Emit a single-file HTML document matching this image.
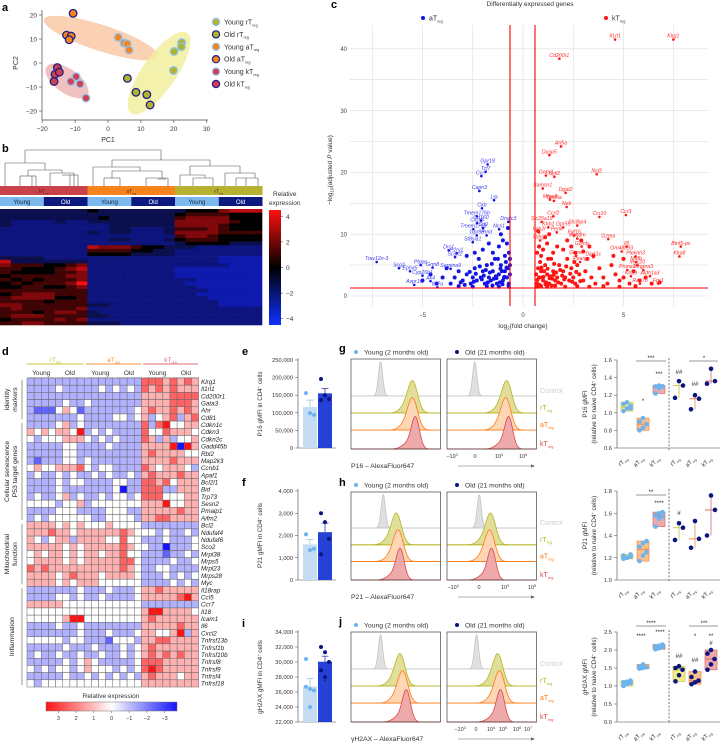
<!DOCTYPE html>
<html><head><meta charset="utf-8"><style>
html,body{margin:0;padding:0;background:#fff}
svg{display:block;font-family:"Liberation Sans",sans-serif}
</style></head><body>
<svg id="fig" width="722" height="743" viewBox="0 0 722 743" xmlns="http://www.w3.org/2000/svg">
<defs>
<linearGradient id="gradB" x1="0" y1="0" x2="0" y2="1"><stop offset="0" stop-color="#ff1010"/><stop offset="0.5" stop-color="#000"/><stop offset="1" stop-color="#1030ff"/></linearGradient>
<linearGradient id="gradD" x1="0" y1="0" x2="1" y2="0"><stop offset="0" stop-color="#ff1414"/><stop offset="0.5" stop-color="#fff"/><stop offset="1" stop-color="#1414ff"/></linearGradient>
</defs>
</svg>
<script>
// ---------- DATA ----------
const pcaGroups = ['Young rT','Old rT','Young aT','Old aT','Young kT','Old kT'];
const pcaX = [[22.4,22.3,20.1,19.9],[5.9,8.5,11.8,12.8],[3.1,4.9,5.8,6.4],[-10.6,-12.6,-11.2,-11.8],[-9.7,-11.3,-8.5,-6.7],[-15.4,-16.1,-14.8,-16.4]];
const pcaY = [[8.5,6.8,4.8,-3.1],[-6.4,-12.2,-13.2,-17.5],[10.7,8.3,8,5.4],[20.7,11.6,11.2,9.7],[-5.7,-7.7,-8.7,-14.6],[-1.9,-4.7,-3.8,-7.7]];
const pcaXTicks = [-20,-10,0,10,20,30];
const pcaYTicks = [20,10,0,-10,-20];

const hmB = ["333333334333333334446777","333333333333333345555444","333333333433333356666444","322223223333333366666544",
"322222222233333366665444","222222222233222355565444","222222223233222366665555","222222222222222256654444",
"222222222233222345554444","222222222222222234444333","222222227666544333222222","222222225555443322222222",
"222222224444333322222222","333322222222222222221111","733333332222222222221111","655544562222222222222111",
"554445672222222211111111","544445562222222211111111","455555662222222211111111","545455562222222222111111",
"454555682222222221111111","445544562222222222111111","555555552222222222211111","456665552222222222111111",
"566664452222222222211111","555545552222222222221111","665555553322222222221111","565555562222222222222222",
"555456653222222222222222","566655553322222222222222","455556562222222222222222","556655553332222222222222"];
const hmBTicks = [4,2,0,-2,-4];

const volRedNames = ['Klrg1','Il1rl1','Cd200r1','Arl5a','Dusp5','Gata3','Sytl2','Nid2','Samsn1','Dgat2','Mfge8','Tent5a','Neb','Ccr3','Ccr10','Ccrl2','Slc25a19','Sh3bp4','Gpr55','Klrb1','Fgf16','Itgb2l','Penk','Gzma','Myadm','Ndrg1','Il5','Gzmb','Gm48893','Btnl5-ps','Klra8','Gzmc','Dipk1c','Plekhh3','Pparg','Mafb','Muc20','Prune2','Mrgpra3','Klra9','Aldh1a3','Rab7b','Fpr1'];
const volRedX = [7.48,4.58,1.81,1.89,1.31,1.14,1.56,3.67,0.98,2.12,1.34,1.54,2.17,5.12,3.8,1.51,0.93,2.7,2.0,1.26,2.55,0.8,1.68,4.24,2.7,0.85,5.16,2.92,4.91,7.85,7.78,2.64,3.5,5.6,2.84,5.63,5.69,5.19,5.99,5.37,6.32,5.82,6.73];
const volRedY = [41.5,41.5,38.4,24.2,22.8,19.5,19.3,19.7,17.4,16.7,15.6,15.4,14.4,13.1,12.8,12.9,12.0,11.4,11.1,11.1,9.8,10.3,10.3,9.2,9.3,9.0,8.0,8.0,7.2,8.0,6.4,6.5,6.3,6.4,5.5,5.5,5.0,4.2,4.2,3.2,3.2,2.0,2.0];
const volBlueNames = ['Gpr18','Tcf7','Ccr7','Capn3','Lta','Ckb','Tmem176b','Cd160','Cxcr5','Dnajc3','Tmem176a','Cd9','Ncs1','Gpr83','Prnd','St8sia1','Drc1','P2ry1','Scart2','Trav12n-3','Scg2','Ptgas','Grm8','Serpina9','Epha5','Cyp26b1','Avpr1a','Ak4','Il17a'];
const volBlueX = [-1.76,-1.86,-2.07,-2.17,-1.44,-2.04,-2.3,-2.09,-2.29,-0.73,-2.47,-1.99,-1.19,-2.3,-1.81,-2.5,-3.7,-3.3,-3.38,-7.28,-6.17,-5.09,-4.5,-3.6,-5.62,-5.0,-5.41,-4.6,-4.26];
const volBlueY = [21.3,20.1,19.4,17.0,15.5,14.2,12.9,12.2,11.8,12.0,10.8,11.0,10.8,9.8,9.8,8.7,7.4,6.9,6.3,5.5,4.5,5.0,4.6,4.4,4.0,3.3,1.8,2.4,1.4];
const volRedBgX = [0.7,0.8,0.9,1,1.1,1.2,1.3,1.4,1.5,1.6,1.7,1.8,1.9,2,2.1,2.2,2.3,2.4,2.5,2.6,2.7,2.8,3,3.1,3.2,3.4,3.6,3.8,4,4.2,4.4,4.6,4.8,5,5.3,5.5,5.8,6.1,6.4,6.8,0.7,0.8,0.9,1,1.2,1.5,1.7,2,2.4,2.6,3,3.5,1.1,1.3,0.75,2.2,2.9,3.3,4.5,5,0.7,0.9,1.2,1.6,2.1,2.7,3.3,4,4.8,5.6,0.75,0.85,0.95,1.05,1.15,1.25,1.35,1.45,1.55,1.65,1.75,1.85,1.95,2.05,2.15,2.35,2.45,2.55,2.65,2.85,0.65,0.72,0.82,0.92,1.02,1.12,1.22,1.32,1.42,1.52];
const volRedBgY = [2,3,4,2.5,5,3.5,2,6,4,2.5,3,5,2,4,3,6,2.5,4.5,3,2,5,3.5,2.5,4,6,3,2,4.5,3,2,5,3.5,2.5,3,2,4,2.5,3,2,2.2,7,8,6.5,7.5,8.5,7,8,7.5,8,7,7.2,6.5,9.5,10,10.5,9,9,8,6.5,6,1.5,1.6,1.5,1.7,1.5,1.6,1.5,1.6,1.5,1.6,4.5,5.5,3,4,2.2,6,3.2,2.8,5.2,3.8,2.2,4.2,3.3,2.7,4.8,3.6,2.3,5.5,3.9,2.4,3.5,2.6,1.8,4.6,3.1,1.9,4.4,2.9,1.7,3.4];
const volBlueBgX = [-0.7,-0.8,-0.9,-1,-1.1,-1.2,-1.3,-1.4,-1.5,-1.6,-1.7,-1.8,-1.9,-2,-2.1,-2.2,-2.3,-2.4,-2.5,-2.6,-2.8,-3,-3.2,-3.4,-3.6,-3.8,-4,-4.3,-4.6,-5,-0.7,-0.8,-0.9,-1,-1.2,-1.5,-1.7,-2,-2.4,-2.8,-1.1,-0.75,-0.7,-1.2,-1.8,-2.5,-3.2,-0.75,-0.85,-0.95,-1.05,-1.15,-1.25,-1.35,-1.45,-1.55,-1.65,-1.75,-1.85,-1.95,-2.05,-2.15,-2.35,-2.45,-2.65,-0.65,-0.65,-0.65,-0.72,-0.82,-0.92,-1.02,-1.12,-1.32,-1.52,-2.9,-3.1];
const volBlueBgY = [2,3,4,2.5,5,3.5,2,6,4,2.5,3,5,2,4,3,6,2.5,4.5,3,2,3.5,2.5,4,3,2,4.5,3,2,3.5,2.5,7,8.5,6.5,9,8,7,8.5,7.5,7,6.5,10,11,1.5,1.5,1.6,1.5,1.6,4.5,5.5,3,4,2.2,6,3.2,2.8,5.2,3.8,2.2,4.2,3.3,2.7,4.8,3.6,2.3,3.9,3.5,5,6,1.8,4.6,3.1,1.9,4.4,2.9,1.7,1.8,2.2];
const volXTicks = [-5,0,5];
const volYTicks = [0,10,20,30,40];

const genesD = ['Klrg1','Il1rl1','Cd200r1','Gata3','Ahr','Cd81','Cdkn1c','Cdkn3','Cdkn2c','Gadd45b','Rbl2','Map2k3','Ccnb1','Apaf1','Bcl2l1','Bid','Trp73','Sesn2','Pmaip1','Aifm2','Bcl2','Ndufaf4','Ndufaf6','Sco2','Mrpl38','Mrps5','Mrpl23','Mrps28','Myc','Il18rap','Ccl5','Ccr7','Il18','Icam1','Il6','Cxcl2','Tnfrsf13b','Tnfrsf1b','Tnfrsf10b','Tnfrsf8','Tnfrsf9','Tnfrsf4','Tnfrsf18'];
const hmD = ["222222222222222255545454","222232222232323254545444","222222222222222244445555","222223223222222244445554","211134312222222345445454","222222232222332342345245",
"222234232222222252563344","434344362323222253354443","323334443232322254242334","222223322223222244446064","222223322222222245444433","212223323222222244445444","343344453233222254344432","232232322323223245444544","222232332222332255453444","222232222222302255522444","232234232232332355533344","333323342333333344463344","222233322223332244444544","232333333223333244554444",
"444434343334333322222222","444544344444454333232232","432344244443353322232223","444443434444454332202223","343443434434453322212232","344443434444455322223223","545444444444454322332222","444434544434444322232323","444434344433333322223232",
"222222232223222344544444","222233232232222344444564","444443333333333322222222","333333333333333346644443","333334663333333345444444","222232232222222244444544","222222232223222344334624","333332332221333244554444","222223222322232345444444","232232232232232345454544","222223234322222355544444","323233234333232356544444","222223223232323245444344","323333333333333344444444"];
const hmDTicks = [3,2,1,0,-1,-2,-3];

const barEYoung = [156000,99000,94000], barEOld = [196000,150000,139000,136000];
const barFYoung = [2050,1350,1400], barFOld = [3000,2600,1850,1150];
const barIYoung = [30400,26400,26200,26700,24000], barIOld = [32000,31300,30000,28900,28000];
const ticksE = [0,50000,100000,150000,200000,250000];
const ticksF = [0,1000,2000,3000,4000];
const ticksI = [22000,24000,26000,28000,30000,32000,34000];

const histRows = ['Control','rT','aT','kT'];
const histGYoungPeak = [33,69,69,72], histGOldPeak = [31,67,66,69];
const histHYoungPeak = [36,51,53,55], histHOldPeak = [36,49,48,50];
const histJYoungPeak = [33,55,58,62], histJOldPeak = [33,57,59,60];
const histSd = [2.4,5.5,5.5,4.5];

const boxCats = ['rT','aT','kT','rT','aT','kT'];
const boxG = [[1.02,1.05,1.08,1.1,1.12,1.05],[0.8,0.83,0.87,0.9,0.94],[1.22,1.28,1.3,1.3,1.31,1.3],[1.17,1.31,1.36],[1.04,1.16,1.2],[1.33,1.36,1.5]];
const boxH = [[1.19,1.2,1.21,1.22,1.2,1.23],[1.17,1.22,1.25,1.3,1.33,1.35],[1.48,1.55,1.57,1.58,1.6,1.61],[1.36,1.47,1.51],[1.29,1.37,1.53],[1.4,1.63,1.76]];
const boxJ = [[1.0,1.05,1.08,1.1,1.12,1.15],[1.48,1.5,1.52,1.55,1.6],[2.02,2.05,2.08,2.1,2.12,2.15],[1.13,1.3,1.45,1.5,1.55],[1.05,1.1,1.15,1.25,1.4],[1.45,1.6,1.75,1.9,2.0]];
const ticksG = [0.6,0.8,1.0,1.2,1.4,1.6];
const ticksH = [1.0,1.2,1.4,1.6,1.8];
const ticksJ = [0,0.5,1.0,1.5,2.0,2.5];

// ---------- HELPERS ----------
const NS='http://www.w3.org/2000/svg';
const svg=document.getElementById('fig');
function mk(tag,attrs,parent){const e=document.createElementNS(NS,tag);for(const k in attrs)e.setAttribute(k,attrs[k]);(parent||svg).appendChild(e);return e;}
function txt(x,y,s,size,anchor,fill,parent,extra){const e=mk('text',Object.assign({x:x,y:y,'font-size':size,'text-anchor':anchor||'start',fill:fill||'#222'},extra||{}),parent);e.textContent=s;return e;}
function reg(x,y,base,size,anchor,fill,parent){const e=mk('text',{x:x,y:y,'font-size':size,'text-anchor':anchor||'start',fill:fill||'#222'},parent);const a=mk('tspan',{},e);a.textContent=base;const b=mk('tspan',{'font-size':size*0.55,dy:size*0.25},e);b.textContent='reg';return e;}
function grp(name){const g=mk('g',{});return g;}
function fmt(n){return n.toLocaleString('en-US');}

// panel letters
[['a',2,11],['b',2,152],['c',331,8],['d',2,355],['e',242,355],['f',242,486],['i',242,627],['g',339,352],['h',339,486],['j',339,625]].forEach(p=>{
 const t=txt(p[1],p[2],p[0],11,'start','#000',null,{'font-weight':'bold'});
 
 
});

// ---------- PANEL A ----------
(function(){
 const g=grp('pca-panel');
 const px=v=>108+v*3.29, py=v=>63-v*2.4;
 [['#f9c9a4',101,38,60,13,18],['#eeb6b6',67,81,25,12,35],['#f2ee9e',159,73,49,17,-55]].forEach((e,i)=>{
  const el=mk('ellipse',{cx:e[1],cy:e[2],rx:e[3],ry:e[4],fill:e[0],opacity:0.85,transform:`rotate(${e[5]} ${e[1]} ${e[2]})`},g);
  
  
 });
 mk('line',{x1:42,y1:10,x2:42,y2:120,stroke:'#444','stroke-width':0.7},g);
 mk('line',{x1:42,y1:120,x2:208,y2:120,stroke:'#444','stroke-width':0.7},g);
 pcaYTicks.forEach(v=>{mk('line',{x1:39,y1:py(v),x2:42,y2:py(v),stroke:'#444','stroke-width':0.6},g);const t=txt(37,py(v)+2.5,String(v).replace('-','−'),6.5,'end','#333',g);});
 pcaXTicks.forEach(v=>{mk('line',{x1:px(v),y1:120,x2:px(v),y2:123,stroke:'#444','stroke-width':0.6},g);const t=txt(px(v),131,String(v).replace('-','−'),6.5,'middle','#333',g);});
 const xl=txt(108,142,'PC1',7,'middle','#333',g);
 const yl=txt(18,63,'PC2',7,'middle','#333',g,{transform:'rotate(-90 18 63)'});
 const fills=['#b3b42a','#b3b42a','#f7831c','#f7831c','#d2404d','#d2404d'];
 const strokes=['#8fc3ef','#1b1f8a','#8fc3ef','#1b1f8a','#8fc3ef','#1b1f8a'];
 pcaX.forEach((xs,gi)=>xs.forEach((x,i)=>{
  const c=mk('circle',{cx:px(x),cy:py(pcaY[gi][i]),r:3.8,fill:fills[gi],stroke:strokes[gi],'stroke-width':1.3},g);
  
  
 }));
 pcaGroups.forEach((n,i)=>{
  const y=22+i*12.4;
  const c=mk('circle',{cx:216,cy:y,r:3.6,fill:fills[i],stroke:strokes[i],'stroke-width':1.2},g);
  
  
  const t=reg(224,y+2.5,n,7,'start','#333',g);
  
  
 });
})();

// ---------- PANEL B ----------
(function(){
 const g=grp('clustered-heatmap-panel');
 const segs=[[25,150,161,150],[25,150,25,163],[161,150,161,160],[5,163,45,163],[5,163,5,186],[45,163,45,170],[28,170,62,170],[28,170,28,176],[62,170,62,173],[20,176,36,176],[20,176,20,186],[36,176,36,186],[32,176,32,186],[50,173,74,173],[50,173,50,186],[74,173,74,186],[62,175,78,175],[78,175,78,186],[70,175,70,186],
 [112,160,210,160],[112,160,112,167],[210,160,210,166],[93,167,140,167],[93,167,93,186],[140,167,140,171],[112,171,162,171],[112,171,112,178],[162,171,162,178],[104,178,120,178],[104,178,104,186],[120,178,120,186],[146,178,168,178],[146,178,146,186],[168,178,168,186],[158,179,166,179],
 [190,166,240,166],[190,166,190,175],[240,166,240,173],[180,175,205,175],[180,175,180,186],[205,175,205,178],[193,178,213,178],[193,178,193,186],[213,178,213,186],[225,173,255,173],[225,173,225,186],[255,173,255,178],[236,178,258,178],[236,178,236,186],[258,178,258,186],[246,178,246,186]];
 segs.forEach(s=>{const l=mk('line',{x1:s[0],y1:s[1],x2:s[2],y2:s[3],stroke:'#555','stroke-width':0.6},g);});
 [['kT',0,'#c8414b'],['aT',87.5,'#f7831c'],['rT',175,'#b5b232']].forEach(b=>{
  const r=mk('rect',{x:b[1],y:186,width:87.5,height:9,fill:b[2]},g);
  const t=reg(b[1]+43.75,193,b[0],5,'middle','#5a2020',g);
  [['Young','#7ab8ee','#123'],['Old','#0c1a80','#fff']].forEach((a,k)=>{
   const r2=mk('rect',{x:b[1]+k*43.75,y:197,width:43.75,height:9,fill:a[1]},g);
   const t2=txt(b[1]+k*43.75+21.9,204,a[0],6,'middle',a[2],g);
  });
 });
 const rh=116/hmB.length, cw=262/24;
 hmB.forEach((row,ri)=>{for(let ci=0;ci<24;ci++){
  const v=+row[ci]-4; let col;
  if(v>=0){col=`rgb(${Math.round(v/4*255)},${Math.round(v/4*15)},${Math.round(v/4*20)})`;} else {const t=-v/4;col=`rgb(${Math.round(10+t*5)},${Math.round(10+t*20)},${Math.round(30+t*190)})`;}
  const r=mk('rect',{x:ci*cw,y:209+ri*rh,width:cw+0.3,height:rh+0.3,fill:col},g);
  
  
 }});
 const cb=mk('rect',{x:269,y:210,width:12,height:115,fill:'url(#gradB)'},g);
 hmBTicks.forEach(v=>{const y=267.5-v*12.8;mk('line',{x1:281,y1:y,x2:283,y2:y,stroke:'#333','stroke-width':0.5},g);const t=txt(286,y+2.5,String(v).replace('-','−'),6.5,'start','#333',g);});
 const t1=txt(273,196,'Relative',6.5,'start','#333',g);
 const t2=txt(269,205,'expression',6.5,'start','#333',g);
})();

// ---------- PANEL C ----------
(function(){
 const g=grp('volcano-panel');
 const vx=v=>523+v*20.1, vy=v=>296-v*6.18;
 const title=txt(530,6,'Differentially expressed genes',6.5,'middle','#333',g);
 [-7.5,-5,-2.5,0,2.5,5,7.5].forEach(v=>{const l=mk('line',{x1:vx(v),y1:25,x2:vx(v),y2:306,stroke:'#dcdcdc','stroke-width':0.6},g);});
 [0,5,10,15,20,25,30,35,40].forEach(v=>{const l=mk('line',{x1:350,y1:vy(v),x2:708,y2:vy(v),stroke:'#dcdcdc','stroke-width':0.6},g);});
 volYTicks.forEach(v=>{const t=txt(347,vy(v)+2.2,String(v),6,'end','#444',g);});
 volXTicks.forEach(v=>{const t=txt(vx(v),317,String(v).replace('-','−'),6,'middle','#444',g);});
 const xt=mk('text',{x:523,y:328,'font-size':6.5,'text-anchor':'middle',fill:'#333'},g);xt.innerHTML='log<tspan font-size="4.5" dy="1.5">2</tspan><tspan dy="-1.5">(fold change)</tspan>';
 
 const yt=mk('text',{x:332,y:170,'font-size':6.5,'text-anchor':'middle',fill:'#333',transform:'rotate(-90 332 170)'},g);yt.innerHTML='−log<tspan font-size="4.5" dy="1.5">10</tspan><tspan dy="-1.5">(adjusted </tspan><tspan font-style="italic">P</tspan> value)';
 
 volBlueBgX.forEach((x,i)=>{const c=mk('circle',{cx:vx(x),cy:vy(volBlueBgY[i]),r:2,fill:'#1414e6'},g);});
 volRedBgX.forEach((x,i)=>{const c=mk('circle',{cx:vx(x),cy:vy(volRedBgY[i]),r:2,fill:'#ff1414'},g);});
 volBlueNames.forEach((n,i)=>{const c=mk('circle',{cx:vx(volBlueX[i]),cy:vy(volBlueY[i]),r:1.3,fill:'#1414e6'},g);
  const t=txt(vx(volBlueX[i]),vy(volBlueY[i])-1.8,n,5.2,'middle','#3a3af0',g,{'font-style':'italic'});});
 volRedNames.forEach((n,i)=>{const c=mk('circle',{cx:vx(volRedX[i]),cy:vy(volRedY[i]),r:1.3,fill:'#ff1414'},g);
  const t=txt(vx(volRedX[i]),vy(volRedY[i])-1.8,n,5.2,'middle','#ff2a2a',g,{'font-style':'italic'});});
 [[510,25,510,306],[535,25,535,306],[350,288,708,288]].forEach(s=>{const l=mk('line',{x1:s[0],y1:s[1],x2:s[2],y2:s[3],stroke:'#ff0000','stroke-width':1.1},g);});
 const d1=mk('circle',{cx:423,cy:18,r:2,fill:'#1414e6'},g);
 const l1=reg(429,20.5,'aT',7,'start','#333',g);
 const d2=mk('circle',{cx:606,cy:18,r:2,fill:'#ff1414'},g);
 const l2=reg(612,20.5,'kT',7,'start','#333',g);
})();

// ---------- PANEL D ----------
(function(){
 const g=grp('gene-heatmap-panel');
 const x0=27, y0=378, cw=7.15, rh=309/genesD.length;
 [['rT',27,84,'#c8c832'],['aT',86,141,'#f4913e'],['kT',143,198,'#e06a74']].forEach(h=>{
  const l=mk('line',{x1:h[1],y1:364,x2:h[2],y2:364,stroke:h[3],'stroke-width':0.9},g);
  const t=reg((h[1]+h[2])/2,362,h[0],6.5,'middle',h[3],g);
  [['Young',0],['Old',1]].forEach(a=>{const cx=h[1]+(a[1]+0.5)*28.6;const t2=txt(cx,375,a[0],6.5,'middle','#333',g);
   mk('line',{x1:cx-13,y1:377.5,x2:cx+13,y2:377.5,stroke:'#aaa','stroke-width':0.6},g);});
 });
 hmD.forEach((row,ri)=>{for(let ci=0;ci<24;ci++){
  const v=+row[ci]-3, t=Math.min(1,Math.abs(v)/3);
  const col=v>=0?`rgb(255,${Math.round(255-235*t)},${Math.round(255-235*t)})`:`rgb(${Math.round(255-235*t)},${Math.round(255-235*t)},255)`;
  const r=mk('rect',{x:x0+ci*cw,y:y0+ri*rh,width:cw,height:rh,fill:col,stroke:'#666','stroke-width':0.5},g);
  
  
 }
  const t=txt(201,y0+ri*rh+rh/2+2.3,genesD[ri],6.3,'start','#222',g,{'font-style':'italic'});
  
  
 });
 [[0,6,['Identity','markers']],[6,20,['Cellular senescence','P53 target genes']],[20,29,['Mitochondrial','function']],[29,43,['Inflammation']]].forEach(s=>{
  const ya=y0+s[0]*rh+2, yb=y0+s[1]*rh-2, ym=(ya+yb)/2;
  const l=mk('line',{x1:22,y1:ya,x2:22,y2:yb,stroke:'#555','stroke-width':0.6},g);
  s[2].forEach((ln,k)=>{const xx=s[2].length==1?14:9+k*8;const t=txt(xx,ym,ln,6.8,'middle','#222',g,{transform:`rotate(-90 ${xx} ${ym})`});});
 });
 const tt=txt(111,698,'Relative expression',6.5,'middle','#333',g);
 const cb=mk('rect',{x:46,y:702,width:131,height:9,fill:'url(#gradD)',stroke:'#777','stroke-width':0.5},g);
 hmDTicks.forEach(v=>{const x=111.5-v*17.7;mk('line',{x1:x,y1:711,x2:x,y2:713,stroke:'#555','stroke-width':0.5},g);const t=txt(x,720,String(v).replace('-','−'),5.5,'middle','#333',g);});
})();

// ---------- BAR PANELS e,f,i ----------
function barPanel(name,top,bot,ticks,young,old,label,star){
 const g=grp(name);
 const lo=ticks[0],hi=ticks[ticks.length-1];
 const sy=v=>bot-(v-lo)/(hi-lo)*(bot-top);
 mk('line',{x1:298,y1:top-2,x2:298,y2:bot,stroke:'#444','stroke-width':0.6},g);
 mk('line',{x1:298,y1:bot,x2:336,y2:bot,stroke:'#444','stroke-width':0.6},g);
 ticks.forEach(v=>{mk('line',{x1:295,y1:sy(v),x2:298,y2:sy(v),stroke:'#444','stroke-width':0.5},g);const t=txt(293,sy(v)+2,fmt(v),5.8,'end','#333',g);});
 const yt=mk('text',{x:262,y:(top+bot)/2,'font-size':6.3,'text-anchor':'middle',fill:'#333',transform:`rotate(-90 262 ${(top+bot)/2})`},g);
 yt.innerHTML=label+' in CD4<tspan font-size="4" dy="-2">+</tspan><tspan dy="2"> cells</tspan>';
 
 [[young,303,'#c5dcf5','#6cb4f0','#8ab8e6'],[old,318,'#2541d6','#0a1580','#1b2a9a']].forEach(b=>{
  const vals=b[0], m=vals.reduce((a,c)=>a+c,0)/vals.length;
  const sd=Math.sqrt(vals.reduce((a,c)=>a+(c-m)*(c-m),0)/(vals.length-1))/Math.sqrt(vals.length);
  const r=mk('rect',{x:b[1],y:sy(m),width:14,height:bot-sy(m),fill:b[2]},g);
  mk('line',{x1:b[1]+7,y1:sy(m),x2:b[1]+7,y2:sy(m+sd),stroke:b[4],'stroke-width':0.7},g);
  mk('line',{x1:b[1]+3.5,y1:sy(m+sd),x2:b[1]+10.5,y2:sy(m+sd),stroke:b[4],'stroke-width':0.7},g);
  vals.forEach((v,i)=>{const c=mk('circle',{cx:b[1]+3+(i%3)*4,cy:sy(v),r:2,fill:b[3]},g);});
 });
 if(star){const s=txt(325,top+52,'*',7,'middle','#222',g);}
}
barPanel('p16-bar-panel',360,448,ticksE,barEYoung,barEOld,'P16 gMFI',false);
barPanel('p21-bar-panel',491,580,ticksF,barFYoung,barFOld,'P21 gMFI',false);
barPanel('gh2ax-bar-panel',632,722,ticksI,barIYoung,barIOld,'gH2AX gMFI',true);

// ---------- HISTOGRAM PANELS g,h,j ----------
function histPanel(name,top,bot,youngPk,oldPk,marker,ticksLbl){
 const g=grp(name);
 const lg=[['Young (2 months old)','#6cb4f0',356],['Old (21 months old)','#0a1580',457]];
 lg.forEach(l=>{const c=mk('circle',{cx:l[2],cy:top-7,r:2,fill:l[1]},g);
  const t=txt(l[2]+8,top-4.5,l[0],6.8,'start','#333',g);});
 const h=bot-top, bases=[top+0.41*h,top+0.6*h,top+0.79*h,bot];
 const fills=['#e0e0e0','#e0de9a','#fdd6b4','#eeaaaa'], strokes=['#c4c4c4','#b9b520','#ff7a10','#d84a4a'];
 [[351,youngPk],[447,oldPk]].forEach(bx=>{
  const x0=bx[0], w=89.5;
  const hx=v=>x0+v/100*w;
  for(let r=0;r<4;r++){
   const amp=(r==0?0.38:0.34)*h, pk=bx[1][r], sd=histSd[r];
   let d=`M${x0},${bases[r]}`;
   for(let v=0;v<=100;v+=0.5){const y=bases[r]-amp*Math.exp(-0.5*((v-pk)/sd)**2)-(r>0?0.7*Math.exp(-0.5*((v-pk+9)/6)**2)*amp*0.25:0);d+=` L${hx(v).toFixed(2)},${y.toFixed(2)}`;}
   const p=mk('path',{d:d+` L${x0+w},${bases[r]} Z`,fill:fills[r],stroke:strokes[r],'stroke-width':0.8},g);
   
   
   mk('line',{x1:x0,y1:bases[r],x2:x0+w,y2:bases[r],stroke:strokes[r],'stroke-width':0.8},g);
  }
  const box=mk('rect',{x:x0,y:top,width:w,height:h,fill:'none',stroke:'#444','stroke-width':0.7},g);
  
 });
 histRows.forEach((r,i)=>{
  let t;
  if(i==0)t=txt(540,bases[0]-3,'Control',7,'start','#cfcfcf',g);
  else t=reg(540,bases[i]-3,r,7,'start',strokes[i],g);
  
 });
 ticksLbl.forEach(tk=>{const t=mk('text',{x:tk[1],y:bot+9,'font-size':5.5,'text-anchor':'middle',fill:'#333'},g);t.innerHTML=tk[0];});
 const xl=txt(351,bot+19,marker+' – AlexaFluor647',6.8,'start','#333',g);
 mk('line',{x1:458,y1:bot+17,x2:534,y2:bot+17,stroke:'#666','stroke-width':0.6},g);
 mk('path',{d:`M535,${bot+17} l-4,-1.6 v3.2 Z`,fill:'#666'},g);
}
const tk3=[['−10<tspan font-size="3.5" dy="-2">3</tspan>',452],['0',475],['10<tspan font-size="3.5" dy="-2">3</tspan>',499],['10<tspan font-size="3.5" dy="-2">5</tspan>',523]];
histPanel('p16-histogram-panel',359,449,histGYoungPeak,histGOldPeak,'P16',tk3);
histPanel('p21-histogram-panel',492,580,histHYoungPeak,histHOldPeak,'P21',[['−10<tspan font-size="3.5" dy="-2">3</tspan>',453],['0',479],['10<tspan font-size="3.5" dy="-2">3</tspan>',505],['10<tspan font-size="3.5" dy="-2">5</tspan>',532]]);
histPanel('gh2ax-histogram-panel',632,722,histJYoungPeak,histJOldPeak,'γH2AX',[['−10<tspan font-size="3.5" dy="-2">3</tspan>',460],['0',476],['10<tspan font-size="3.5" dy="-2">4</tspan>',491],['10<tspan font-size="3.5" dy="-2">5</tspan>',503],['10<tspan font-size="3.5" dy="-2">6</tspan>',517],['10<tspan font-size="3.5" dy="-2">7</tspan>',528]]);

// ---------- BOX PANELS ----------
function boxPanel(name,top,bot,ticks,data,label,sig){
 const g=grp(name);
 const lo=ticks[0],hi=ticks[ticks.length-1];
 const sy=v=>bot-(v-lo)/(hi-lo)*(bot-top);
 const cx=[627,643,659,679,695,711];
 mk('line',{x1:617,y1:top,x2:617,y2:bot,stroke:'#444','stroke-width':0.6},g);
 mk('line',{x1:617,y1:bot,x2:720,y2:bot,stroke:'#444','stroke-width':0.6},g);
 mk('line',{x1:669,y1:top-2,x2:669,y2:bot+2,stroke:'#777','stroke-width':1,'stroke-dasharray':'2,1.6'},g);
 ticks.forEach(v=>{mk('line',{x1:614,y1:sy(v),x2:617,y2:sy(v),stroke:'#444','stroke-width':0.5},g);const t=txt(612,sy(v)+2,v.toFixed(1),5.8,'end','#333',g);});
 const ym=(top+bot)/2;
 const t1=txt(587,ym,label,6.3,'middle','#333',g,{transform:`rotate(-90 587 ${ym})`});
 const t2=mk('text',{x:596,y:ym,'font-size':6.3,'text-anchor':'middle',fill:'#333',transform:`rotate(-90 596 ${ym})`},g);t2.innerHTML='(relative to naive CD4<tspan font-size="4" dy="-2">+</tspan><tspan dy="2"> cells)</tspan>';
 
 const fills=['#f4ec8a','#fbbf8c','#eeaaaa'], strokes=['#c9c34a','#f08a50','#d86a6a'];
 data.forEach((vals,i)=>{
  const s=[...vals].sort((a,b)=>a-b), mn=s[0], mx=s[s.length-1], md=s.length%2?s[(s.length-1)/2]:(s[s.length/2-1]+s[s.length/2])/2;
  const k=i%3, x=cx[i];
  if(vals.length>=5){const r=mk('rect',{x:x-6,y:sy(mx),width:12,height:sy(mn)-sy(mx),fill:fills[k],stroke:strokes[k],'stroke-width':0.7},g);}
  else{const r=mk('line',{x1:x,y1:sy(mx),x2:x,y2:sy(mn),stroke:strokes[k],'stroke-width':0.8},g);}
  mk('line',{x1:x-6,y1:sy(md),x2:x+6,y2:sy(md),stroke:strokes[k],'stroke-width':1},g);
  vals.forEach((v,j)=>{const c=mk('circle',{cx:x+(vals.length>=5?((j%3)-1)*3.5:(j%2?4:-4)*(j==1?1:(j==2?0:1))),cy:sy(v),r:2.3,fill:i<3?'#6cb4f0':'#0a1580'},g);});
  const lt=reg(x+1,bot+11,boxCats[i],6,'end','#333',g);lt.setAttribute('transform',`rotate(-45 ${x+1} ${bot+11})`);
  
 });
 sig.forEach(s=>{
  if(s[0]=='line'){const l=mk('line',{x1:s[1],y1:s[3],x2:s[2],y2:s[3],stroke:'#333','stroke-width':0.6},g);}
  else{const t=txt(s[1],s[2],s[0],6,'middle','#222',g);}
 });
}
boxPanel('p16-box-panel',360,448,ticksG,boxG,'P16 gMFI',[['line',636,666,361],['***',651,360],['***',659,376],['*',643,403],['##',679,374],['##',695,386],['line',689,718,361],['*',704,360]]);
boxPanel('p21-box-panel',491,580,ticksH,boxH,'P21 gMFI',[['line',636,666,495],['**',651,494],['****',659,505],['#',679,515]]);
boxPanel('gh2ax-box-panel',632,722,ticksJ,boxJ,'gH2AX gMFI',[['line',636,666,626],['****',651,625],['****',641,638],['****',660,634],['##',679,658],['line',689,718,626],['***',704,625],['*',695,638],['**',711,638],['#',711,645],['##',695,662]]);
</script>
</body></html>
